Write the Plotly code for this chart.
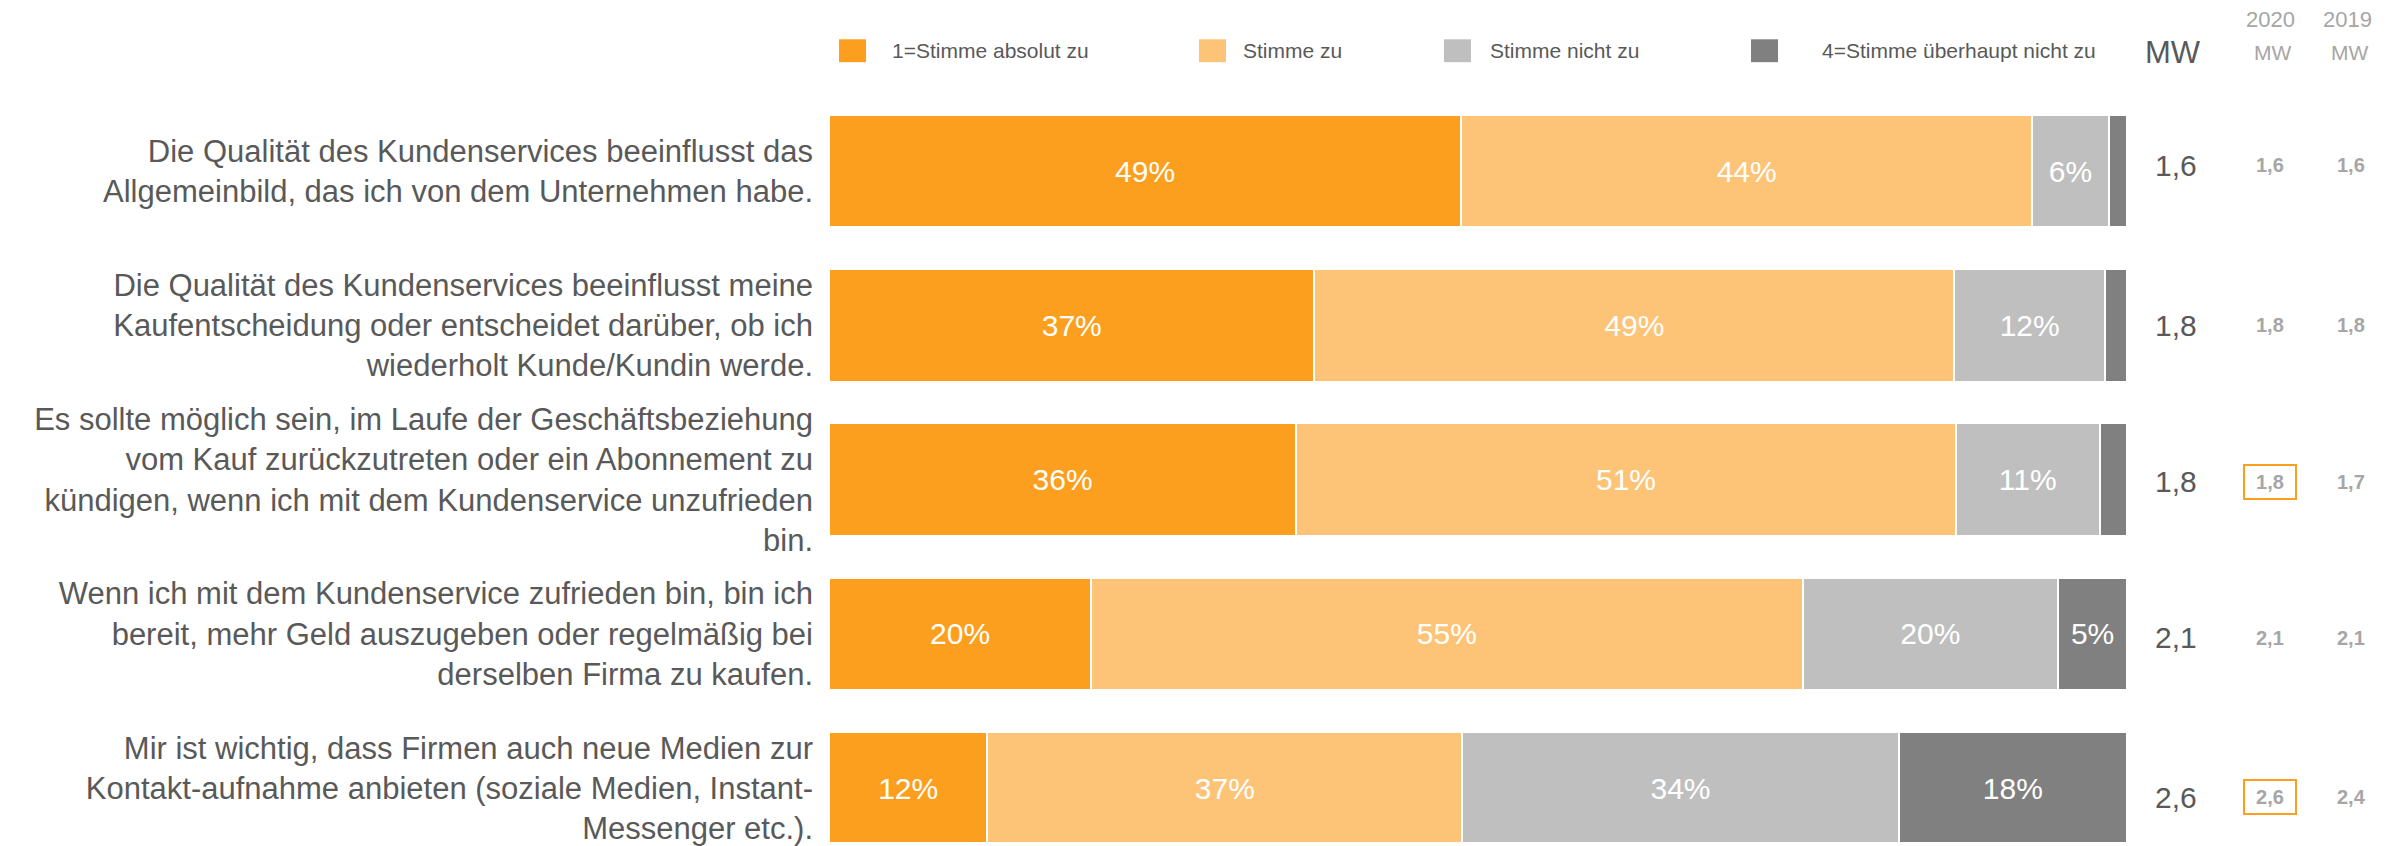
import plotly.graph_objects as go

statements = [
    "Die Qualität des Kundenservices beeinflusst das<br>Allgemeinbild, das ich von dem Unternehmen habe.",
    "Die Qualität des Kundenservices beeinflusst meine<br>Kaufentscheidung oder entscheidet darüber, ob ich<br>wiederholt Kunde/Kundin werde.",
    "Es sollte möglich sein, im Laufe der Geschäftsbeziehung<br>vom Kauf zurückzutreten oder ein Abonnement zu<br>kündigen, wenn ich mit dem Kundenservice unzufrieden<br>bin.",
    "Wenn ich mit dem Kundenservice zufrieden bin, bin ich<br>bereit, mehr Geld auszugeben oder regelmäßig bei<br>derselben Firma zu kaufen.",
    "Mir ist wichtig, dass Firmen auch neue Medien zur<br>Kontakt-aufnahme anbieten (soziale Medien, Instant-<br>Messenger etc.).",
]
answers = ["1=Stimme absolut zu", "Stimme zu", "Stimme nicht zu", "4=Stimme überhaupt nicht zu"]

absolut_zu = [48.7, 37.4, 36.0, 20.2, 12.2]
zu = [44.0, 49.3, 50.8, 54.8, 36.6]
nicht_zu = [5.9, 11.6, 11.1, 19.7, 33.6]
ueberhaupt_nicht = [1.4, 1.7, 2.1, 5.3, 17.6]

mw_2021 = [1.6, 1.8, 1.8, 2.1, 2.6]
mw_2020 = [1.6, 1.8, 1.8, 2.1, 2.6]
mw_2019 = [1.6, 1.8, 1.7, 2.1, 2.4]
highlight_2020 = [False, False, True, False, True]

colors = ["#FD9F1E", "#FDC477", "#BFBFBF", "#808080"]
FONT = "Liberation Sans, Arial, sans-serif"
TXT = "#595959"
LIGHT = "#A6A6A6"

# the page body adds 8px around the figure; positions below are screen pixels
OFF = 8
W, H = 2402, 846
L = 829 - OFF
T = 94 - OFF
R = W - (2127 - OFF)
B = H - (846 - OFF)
pw = W - L - R
ph = H - T - B


def px_x(p):
    return (p - OFF - L) / pw


def px_y(p):
    return (H - B - (p - OFF)) / ph


def comma(v):
    return f"{v:.1f}".replace(".", ",")


rows = list(range(len(statements)))
fig = go.Figure()
for name, vals, col in zip(answers, [absolut_zu, zu, nicht_zu, ueberhaupt_nicht], colors):
    fig.add_trace(go.Bar(
        y=rows, x=vals, orientation="h", name=name, width=0.73,
        marker=dict(color=col, line=dict(color="white", width=2)),
        text=[f"{v:.0f}%" if v >= 3 else "" for v in vals],
        textposition="inside", insidetextanchor="middle", textangle=0,
        constraintext="none",
        textfont=dict(family=FONT, size=30, color="white"),
        showlegend=False,
    ))

# legend drawn by hand so the swatches match the original size
legend_sq = [839, 1199, 1444, 1751]
legend_txt = [890, 1241, 1488, 1820]
for name, col, sx, tx in zip(answers, colors, legend_sq, legend_txt):
    fig.add_shape(type="rect", xref="paper", yref="paper",
                  x0=px_x(sx), x1=px_x(sx + 27), y0=px_y(62), y1=px_y(39),
                  fillcolor=col, line_width=0)
    fig.add_annotation(xref="paper", yref="paper", x=px_x(tx), y=px_y(50),
                       xanchor="left", yanchor="middle", showarrow=False,
                       text=name, font=dict(family=FONT, size=21, color=TXT))

# column headers
fig.add_annotation(xref="paper", yref="paper", x=px_x(2173), y=px_y(52),
                   xanchor="center", yanchor="middle", showarrow=False,
                   text="MW", font=dict(family=FONT, size=31, color=TXT))
for cx, yr in [(2270, "2020"), (2347, "2019")]:
    fig.add_annotation(xref="paper", yref="paper", x=px_x(cx), y=px_y(19),
                       xanchor="center", yanchor="middle", showarrow=False,
                       text=yr, font=dict(family=FONT, size=22, color=LIGHT))
    fig.add_annotation(xref="paper", yref="paper", x=px_x(cx + 2), y=px_y(52),
                       xanchor="center", yanchor="middle", showarrow=False,
                       text="MW", font=dict(family=FONT, size=21, color=LIGHT))

# mean values (small vertical nudges as in the original slide)
nudge = [6, 0, -2, -4, -9]
for i in rows:
    fig.add_annotation(xref="paper", yref="y", x=px_x(2176), y=i, yshift=nudge[i],
                       xanchor="center", yanchor="middle", showarrow=False,
                       text=comma(mw_2021[i]), font=dict(family=FONT, size=30, color=TXT))
    box = dict(bordercolor="#FD9F1E", borderwidth=2, borderpad=1, width=48, height=30) \
        if highlight_2020[i] else {}
    fig.add_annotation(xref="paper", yref="y", x=px_x(2270), y=i, yshift=nudge[i],
                       xanchor="center", yanchor="middle", showarrow=False,
                       text=f"<b>{comma(mw_2020[i])}</b>",
                       font=dict(family=FONT, size=20, color=LIGHT), **box)
    fig.add_annotation(xref="paper", yref="y", x=px_x(2351), y=i, yshift=nudge[i],
                       xanchor="center", yanchor="middle", showarrow=False,
                       text=f"<b>{comma(mw_2019[i])}</b>",
                       font=dict(family=FONT, size=20, color=LIGHT))

fig.update_layout(
    barmode="stack", width=W, height=H,
    margin=dict(l=L, r=R, t=T, b=B),
    plot_bgcolor="white", paper_bgcolor="white",
    xaxis=dict(range=[0, 100], visible=False, fixedrange=True),
    yaxis=dict(range=[4.35, -0.5], tickvals=rows, ticktext=statements,
               showgrid=False, zeroline=False, showline=False, ticks="",
               ticklabelstandoff=15,
               tickfont=dict(family=FONT, size=31, color=TXT)),
)

fig.write_html("out.html")
